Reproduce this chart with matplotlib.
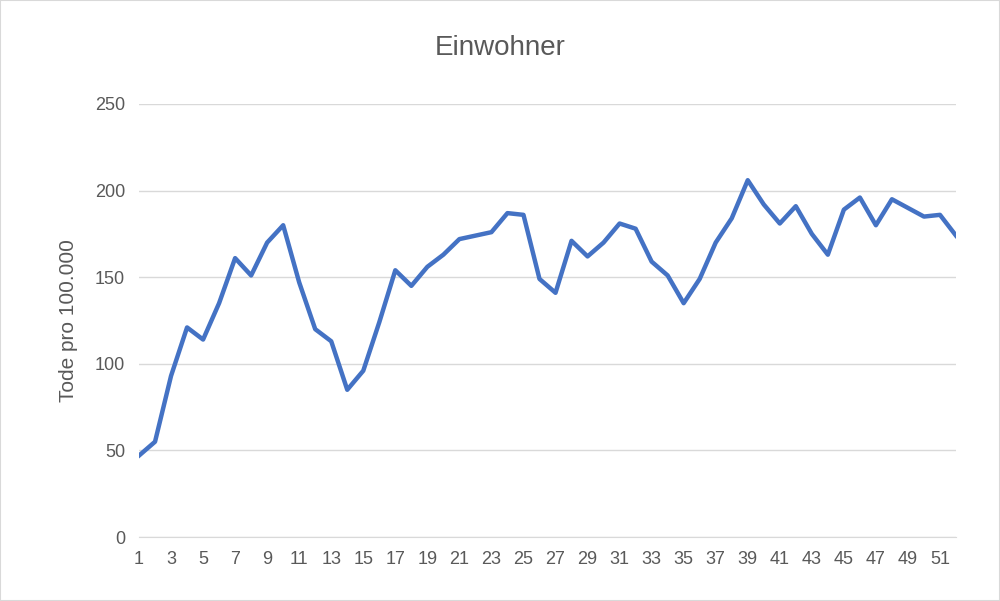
import numpy as np
import matplotlib
matplotlib.use('Agg')
import matplotlib.pyplot as plt

###############################################################################
# Data
###############################################################################
weeks = np.arange(1, 53)
deaths = [
    47, 55, 93, 121, 114, 135, 161, 151, 170, 180,
    147, 120, 113, 85, 96, 124, 154, 145, 156, 163,
    172, 174, 176, 187, 186, 149, 141, 171, 162, 170,
    181, 178, 159, 151, 135, 149, 170, 184, 206, 192,
    181, 191, 175, 163, 189, 196, 180, 195, 190, 185,
    186, 174
]
yTicks = [0, 50, 100, 150, 200, 250]
xTicks = list(range(1, 53, 2))

###############################################################################
# Figure
###############################################################################
plt.rcParams['font.family'] = ['Liberation Sans', 'DejaVu Sans']
TXT = '#595959'
fig = plt.figure(figsize=(10, 6.01), dpi=100)
ax = fig.add_axes([0.139, 1 - 537/601, 0.817, (537 - 104)/601])
ax.plot(weeks, deaths, color='#4472C4', linewidth=3.2, solid_joinstyle='round')
ax.set_xlim(1, 52)
ax.set_ylim(0, 250)
ax.set_yticks(yTicks)
ax.set_xticks(xTicks)
ax.grid(axis='y', color='#d9d9d9', linewidth=1)
ax.set_axisbelow(True)
for s in ['top', 'right', 'left']:
    ax.spines[s].set_visible(False)
ax.spines['bottom'].set_color('#d9d9d9')
ax.tick_params(length=0, labelsize=13, colors=TXT, pad=10)
ax.set_ylabel('Tode pro 100.000', fontsize=15, color=TXT, labelpad=12)
fig.text(0.5, 1 - 48/601, 'Einwohner', ha='center', va='center',
         fontsize=20, color=TXT)
fig.patches.append(plt.Rectangle((0, 0), 1, 1, transform=fig.transFigure,
                                 fill=False, edgecolor='#d9d9d9', linewidth=1.5))
fig.savefig('out.png', dpi=100)
